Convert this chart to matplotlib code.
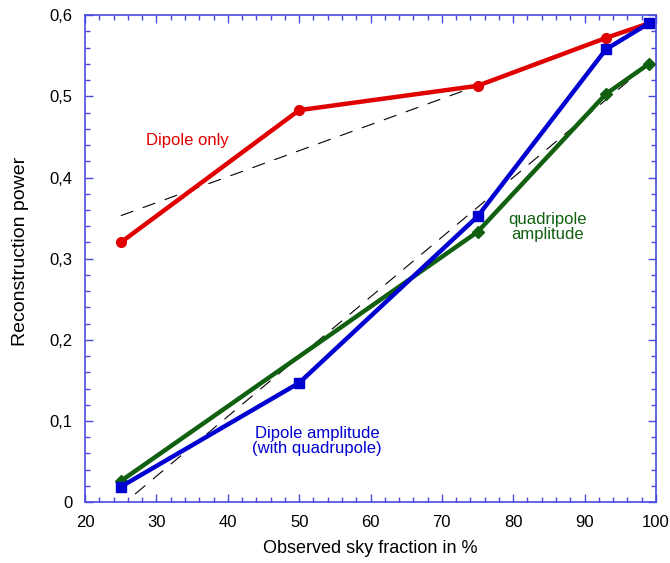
import matplotlib
matplotlib.use("Agg")
import matplotlib.pyplot as plt
from matplotlib.ticker import MultipleLocator, FuncFormatter

plt.rcParams['font.family'] = ['Liberation Sans', 'DejaVu Sans']

# Data
sky_fraction = [25, 50, 75, 93, 99]
dipole_only = [0.320, 0.483, 0.513, 0.572, 0.590]
dipole_amp_quad = [0.019, 0.147, 0.352, 0.558, 0.590]
quad_x = [25, 75, 93, 99]
quad_amp = [0.026, 0.333, 0.503, 0.540]

fit1_x = [25, 99]
fit1_y = [0.353, 0.590]
fit2_x = [27, 99]
fit2_y = [0.010, 0.540]

x_ticks = [20, 30, 40, 50, 60, 70, 80, 90, 100]
y_ticks = [0, 0.1, 0.2, 0.3, 0.4, 0.5, 0.6]

red = '#e00000'
blue = '#0000d0'
green = '#106010'
axcol = '#4a4ae0'

fig = plt.figure(figsize=(6.7, 5.63), dpi=100)
ax = fig.add_axes([0.127, 0.108, 0.852, 0.865])

ax.plot(fit1_x, fit1_y, color='black', lw=0.8, dashes=(12, 9))
ax.plot(fit2_x, fit2_y, color='black', lw=0.8, dashes=(12, 9))

ax.plot(sky_fraction, dipole_only, color=red, lw=3.2, marker='o', ms=7, zorder=3)
ax.plot(quad_x, quad_amp, color=green, lw=3.2, marker='D', ms=6, zorder=3)
ax.plot(sky_fraction, dipole_amp_quad, color=blue, lw=3.2, marker='s', ms=7, zorder=4)

ax.text(34.3, 0.446, 'Dipole only', color=red, fontsize=12, ha='center', va='center')
ax.text(84.8, 0.339, 'quadripole\namplitude', color=green, fontsize=12, ha='center', va='center', linespacing=1.0)
ax.text(52.5, 0.076, 'Dipole amplitude\n(with quadrupole)', color=blue, fontsize=12, ha='center', va='center', linespacing=1.0)

ax.set_xlim(20, 100)
ax.set_ylim(0, 0.6)
ax.set_xticks(x_ticks)
ax.set_yticks(y_ticks)
ax.xaxis.set_minor_locator(MultipleLocator(2))
ax.yaxis.set_minor_locator(MultipleLocator(0.02))
ax.yaxis.set_major_formatter(FuncFormatter(lambda v, p: '0' if abs(v) < 1e-9 else ('%.1f' % v).replace('.', ',')))

for s in ax.spines.values():
    s.set_color(axcol)
    s.set_linewidth(1.2)
ax.tick_params(which='both', direction='in', top=True, right=True, color=axcol, labelsize=12, width=1)
ax.tick_params(which='major', length=6)
ax.tick_params(which='minor', length=3.5)
ax.tick_params(axis='x', pad=9)
ax.tick_params(axis='y', pad=9)

ax.set_xlabel('Observed sky fraction in %', fontsize=13)
ax.set_ylabel('Reconstruction power', fontsize=14)
ax.xaxis.set_label_coords(0.5, -0.078)
ax.yaxis.set_label_coords(-0.098, 0.515)

fig.savefig('out.png', dpi=100)
